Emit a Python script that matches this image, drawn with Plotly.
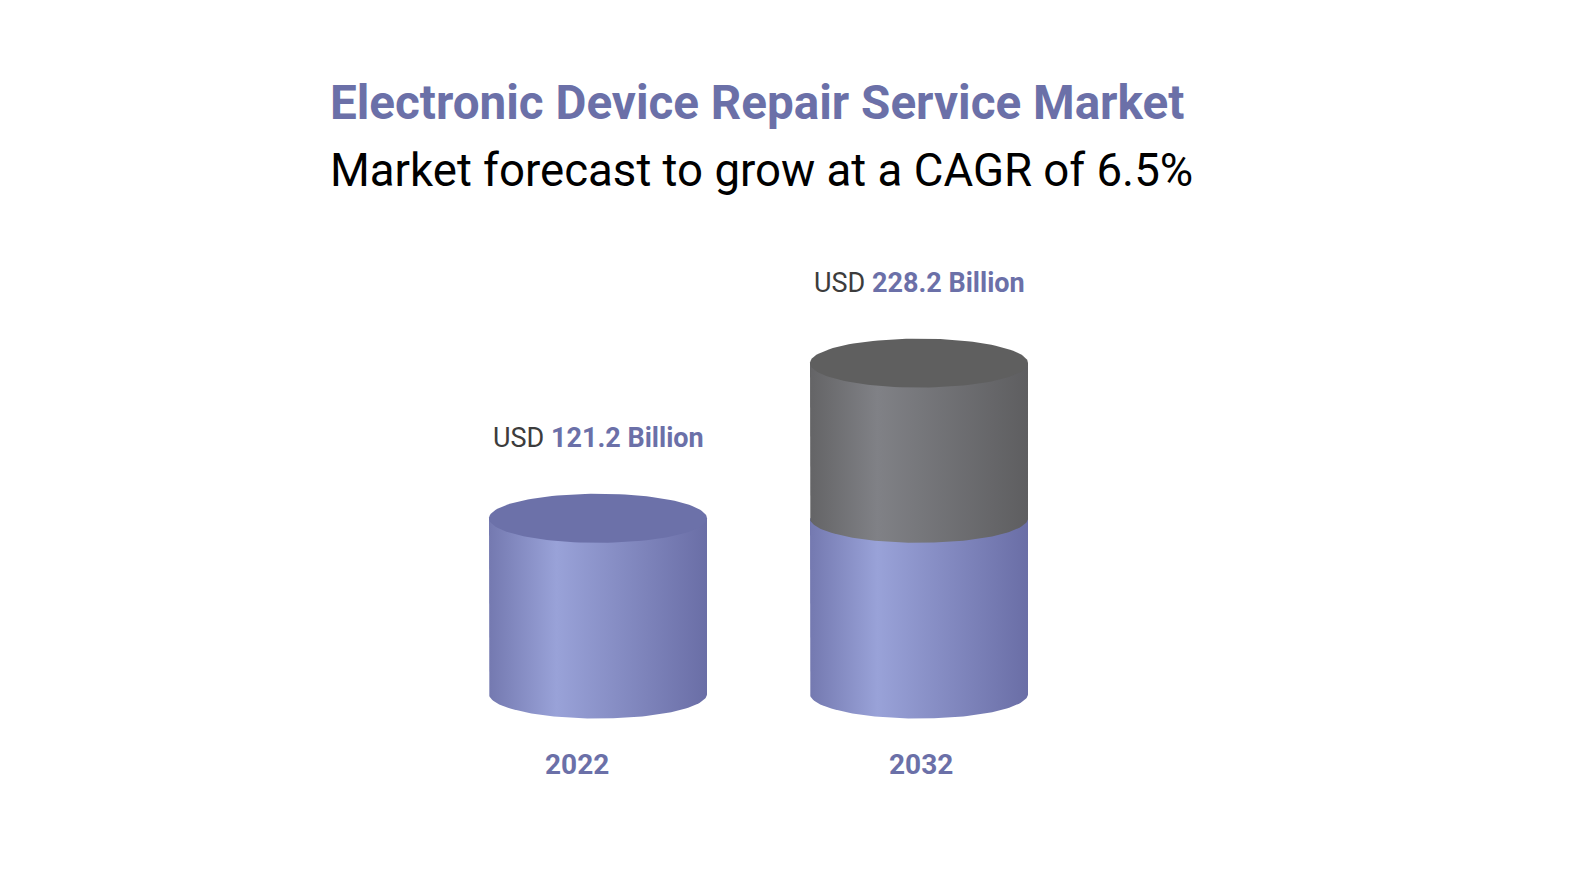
import numpy as np
import plotly.graph_objects as go

# ---- data ----
years = ["2022", "2032"]
totals = [121.2, 228.2]          # USD billion
base_part = [121.2, 121.2]       # blue segment
title_text = "Electronic Device Repair Service Market"
subtitle_text = "Market forecast to grow at a CAGR of 6.5%"

# ---- style ----
OFF = 8  # page body margin
W, H = 1569 - 2 * OFF, 880 - 2 * OFF
PX_PER_X = 321.0
PX_PER_Y = 1.45
X0_PX, Y0_PX = 598.0 - OFF, 694.0 - OFF
HALF_W = 109.0 / PX_PER_X
RY = 24.5 / PX_PER_Y
ACCENT = "#6b70a8"
BLUE_SCALE = [[0, "#7479b0"], [0.31, "#99a2d8"], [1, "#6a6ea6"]]
GRAY_SCALE = [[0, "#646466"], [0.31, "#808186"], [1, "#5e5e60"]]
BLUE_TOP = "#6c71a9"
GRAY_TOP = "#5f5f5f"
FONT = "Roboto"

fig = go.Figure()

def body(c, y0, y1, scale):
    t = np.linspace(0, np.pi, 80)
    xs = [c - HALF_W, c - HALF_W] + list(c - HALF_W * np.cos(t)) + [c + HALF_W, c + HALF_W]
    ys = [y1, y0] + list(y0 - RY * np.sin(t)) + [y0, y1]
    fig.add_trace(go.Scatter(x=xs, y=ys, mode="lines", fill="toself",
                             line=dict(width=0), fillgradient=dict(type="horizontal", colorscale=scale),
                             hoverinfo="skip", showlegend=False))

def top(c, y, color):
    t = np.linspace(0, 2 * np.pi, 120)
    fig.add_trace(go.Scatter(x=c + HALF_W * np.cos(t), y=y + RY * np.sin(t), mode="lines",
                             fill="toself", fillcolor=color, line=dict(width=0, color=color),
                             hoverinfo="skip", showlegend=False))

for i, (yr, tot, b) in enumerate(zip(years, totals, base_part)):
    body(i, 0, b, BLUE_SCALE)
    if tot > b:
        body(i, b, tot, GRAY_SCALE)
        top(i, tot, GRAY_TOP)
    else:
        top(i, tot, BLUE_TOP)
    fig.add_annotation(x=i, y=tot, yshift=80, showarrow=False,
                       text=f"<span style='color:#3c3c3c'>USD</span> <b>{tot:.1f} Billion</b>",
                       font=dict(family=FONT, size=27, color=ACCENT))
    fig.add_annotation(x=i, y=0, yshift=-70, xshift=(-21 if i == 0 else 2), showarrow=False,
                       text=f"<b>{yr}</b>", font=dict(family=FONT, size=28, color=ACCENT))

fig.add_annotation(xref="paper", yref="paper", x=(328 - OFF) / W, y=1 - (103 - OFF) / H,
                   xanchor="left", yanchor="middle",
                   showarrow=False, text=f"<b>{title_text}</b>",
                   font=dict(family=FONT, size=47.6, color=ACCENT))
fig.add_annotation(xref="paper", yref="paper", x=(328 - OFF) / W, y=1 - (170 - OFF) / H,
                   xanchor="left", yanchor="middle",
                   showarrow=False, text=subtitle_text,
                   font=dict(family=FONT, size=45.6, color="#000000"))

fig.update_layout(
    width=W, height=H, margin=dict(l=0, r=0, t=0, b=0),
    paper_bgcolor="white", plot_bgcolor="white",
    xaxis=dict(range=[-X0_PX / PX_PER_X, (W - X0_PX) / PX_PER_X], visible=False, fixedrange=True),
    yaxis=dict(range=[-(H - Y0_PX) / PX_PER_Y, Y0_PX / PX_PER_Y], visible=False, fixedrange=True),
)

fig.write_html("out.html")
